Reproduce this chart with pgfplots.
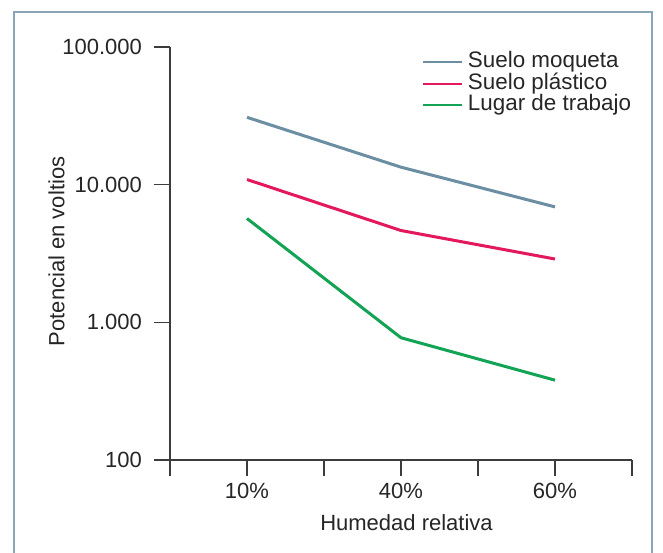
\documentclass[border=0pt]{standalone}
\usepackage{pgfplots}
\pgfplotsset{compat=1.18}
\usepackage{fontspec}
\setmainfont{Liberation Sans}
\definecolor{cMoq}{HTML}{6B8EA3}
\definecolor{cRosa}{HTML}{E4185C}
\definecolor{cVerde}{HTML}{12A454}
\definecolor{bordercol}{HTML}{8BA5B8}
\definecolor{axiscol}{HTML}{3C3C3C}
\definecolor{txt}{HTML}{262626}
\begin{document}
\begin{tikzpicture}
\useasboundingbox (0,0) rectangle (331.5pt,276pt);
\fill[white] (0,0) rectangle (331.5pt,276pt);
\draw[bordercol, line width=1pt] (7pt,-5pt) -- (7pt,270pt) -- (326pt,270pt) -- (326pt,-5pt);
\begin{axis}[
  at={(85pt,46pt)}, anchor=south west,
  scale only axis, width=231pt, height=206.5pt,
  xmin=0, xmax=6,
  ymode=log, ymin=100, ymax=100000,
  axis lines*=left,
  axis line style={line width=0.75pt, color=axiscol},
  every tick/.style={line width=0.75pt, color=axiscol},
  tick align=outside, major tick length=8pt,
  xtick={0,1,2,3,4,5,6},
  xticklabels={,10\%,,40\%,,60\%,},
  ytick={100,1000,10000,100000},
  yticklabels={100,1.000,10.000,100.000},
  yminorticks=false,
  /pgf/number format/assume math mode=true,
  font=\fontsize{11}{13}\selectfont,
  every tick label/.append style={text=txt},
  yticklabel style={xshift=-2.5pt},
  xlabel={Humedad relativa},
  ylabel={Potencial en voltios},
  xlabel style={at={(rel axis cs:0.5,0)}, anchor=base, yshift=-35.35pt, xshift=2.75pt, text=txt},
  ylabel style={at={(axis description cs:-0.2284,0.505)}, anchor=base, text=txt},
  legend style={at={(rel axis cs:1,1)}, anchor=north east, yshift=-2pt,
    draw=none, fill=none, inner sep=0pt, row sep=0pt,
    font=\fontsize{11.2}{13}\selectfont,
    /tikz/every odd column/.append style={column sep=2pt},
    nodes={inner sep=0.25pt, text height=7.9pt, text depth=2.4pt, text=txt}},
  legend cell align=left,
  legend image code/.code={\draw[#1, line width=1pt] (0pt,0pt) -- (19.5pt,0pt);},
]
\addplot[color=cMoq, line width=1.5pt] coordinates {(1,30850) (3,13400) (5,6895)};
\addplot[color=cRosa, line width=1.5pt] coordinates {(1,10900) (3,4645) (5,2884)};
\addplot[color=cVerde, line width=1.5pt] coordinates {(1,5680) (3,773) (5,380)};
\legend{Suelo moqueta, Suelo plástico, Lugar de trabajo}
\end{axis}
\end{tikzpicture}
\end{document}
